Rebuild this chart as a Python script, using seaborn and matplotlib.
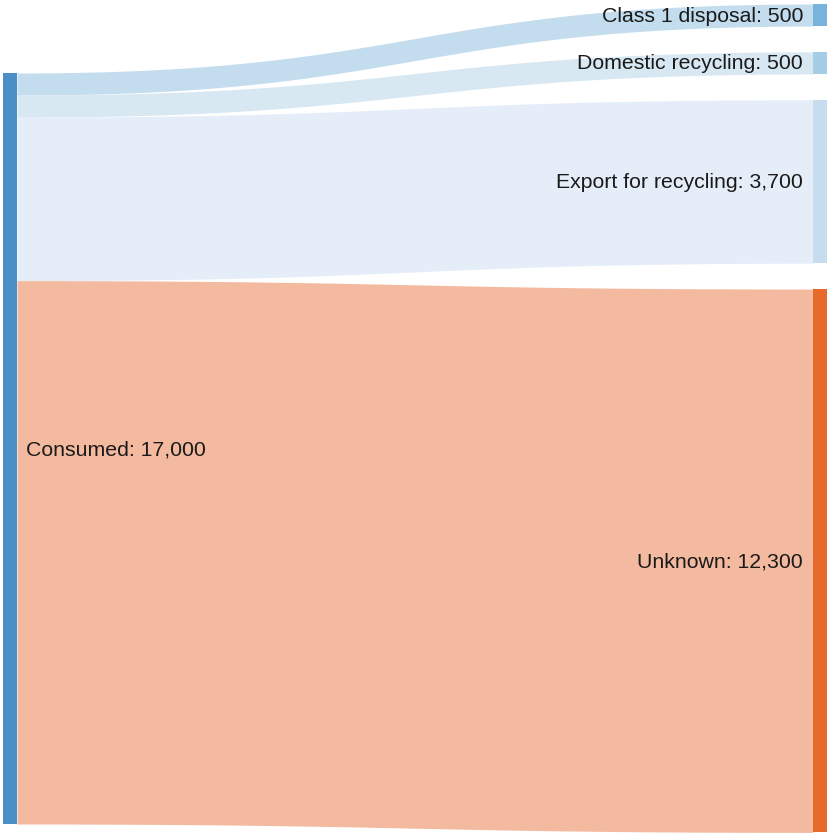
# Sankey diagram: where the consumed material ends up
import numpy as np
import seaborn as sns
import matplotlib.pyplot as plt

# data
source_name = "Consumed"
targets = ["Class 1 disposal", "Domestic recycling", "Export for recycling", "Unknown"]
flows = [500, 500, 3700, 12300]

# colours for nodes and links
node_colors = ["#78b3dc", "#a5cde5", "#c8dcef", "#e86a2a"]
link_colors = ["#c3ddee", "#d8e8f3", "#e5eef8", "#f4ba9f"]
source_color = "#4a8fc6"

sns.set_theme(style="white")
plt.rcParams["font.family"] = ["Liberation Sans", "DejaVu Sans"]

W, H = 827, 833
fig = plt.figure(figsize=(W / 100, H / 100), dpi=100)
ax = fig.add_axes([0, 0, 1, 1])
ax.set_xlim(0, W)
ax.set_ylim(H, 0)
ax.axis("off")

# layout (pixel units)
node_w = 14
left_x = 3
right_x = W - node_w
total = sum(flows)
scale = 751 / total
gap = 25.8
right_top = 4
left_top = 73

heights = [v * scale for v in flows]

# right node positions
right_y = []
y = right_top
for h in heights:
    right_y.append(y)
    y += h + gap

# links, drawn as cubic bezier bands (control points at the middle)
t = np.linspace(0, 1, 300)
x0, x1 = left_x + node_w, right_x
xm = (x0 + x1) / 2
xs = x0 * (1 - t) ** 3 + 3 * xm * (1 - t) ** 2 * t + 3 * xm * (1 - t) * t ** 2 + x1 * t ** 3
s = 3 * t ** 2 - 2 * t ** 3
y0 = left_top
for h, ry, c in zip(heights, right_y, link_colors):
    top = y0 + (ry - y0) * s
    ax.fill_between(xs, top, top + h, color=c, lw=0, zorder=1)
    y0 += h

# nodes
ax.add_patch(plt.Rectangle((left_x, left_top), node_w, total * scale,
                           color=source_color, lw=0, zorder=2))
for h, ry, c in zip(heights, right_y, node_colors):
    ax.add_patch(plt.Rectangle((right_x, ry), node_w, h, color=c, lw=0, zorder=2))

# labels
fs = 15.3
ax.text(left_x + node_w + 9, left_top + total * scale / 2 + 1,
        f"{source_name}: {total:,}", ha="left", va="center",
        fontsize=fs, color="#1a1a1a", zorder=3)
for name, v, h, ry in zip(targets, flows, heights, right_y):
    ax.text(right_x - 10, ry + h / 2 + 1, f"{name}: {v:,}", ha="right",
            va="center", fontsize=fs, color="#1a1a1a", zorder=3)

fig.savefig("out.png", dpi=100)
